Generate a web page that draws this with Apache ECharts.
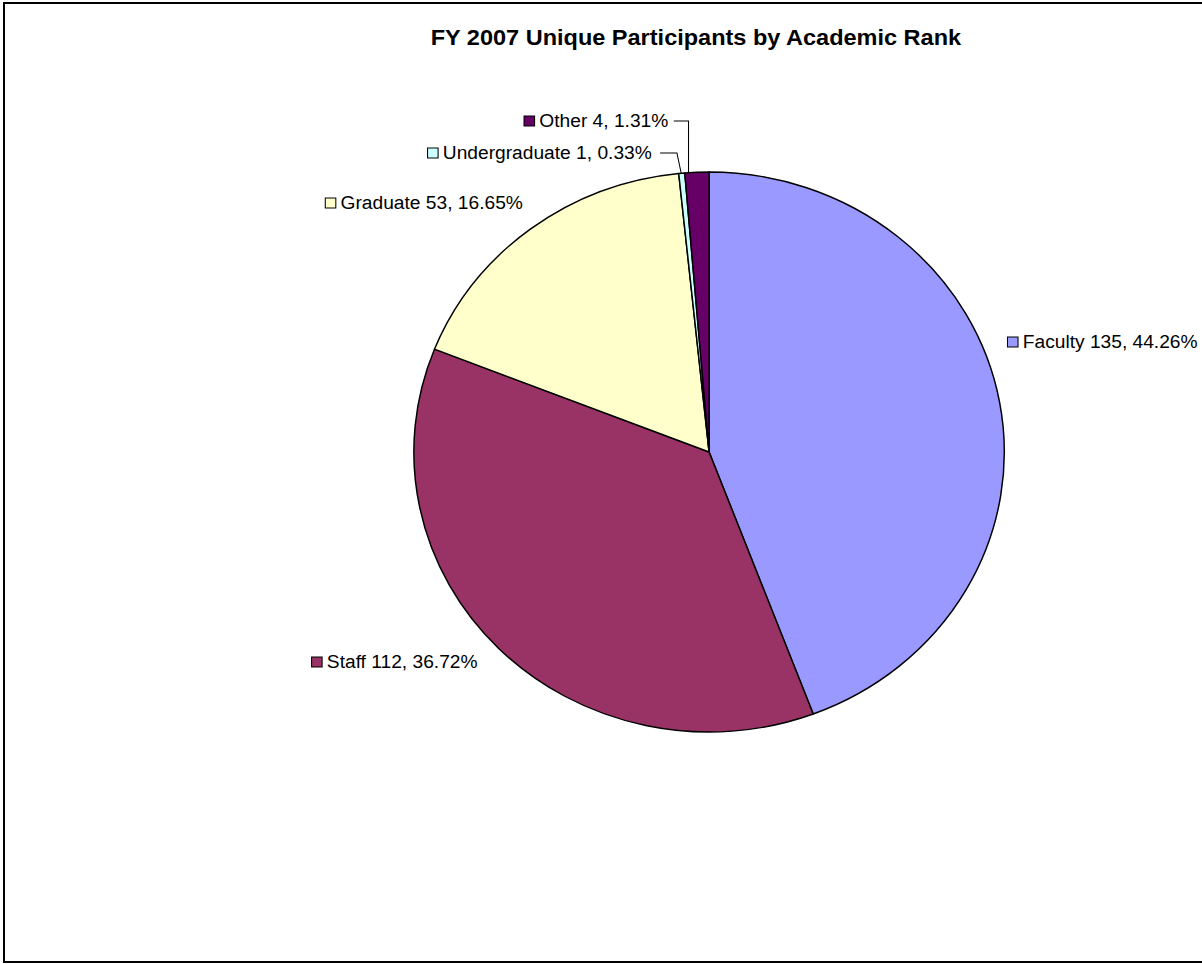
<!DOCTYPE html>
<html>
<head>
<meta charset="utf-8">
<title>FY 2007 Unique Participants by Academic Rank</title>
<script src="https://cdn.jsdelivr.net/npm/echarts@6/dist/echarts.min.js"></script>
<style>
  html, body { margin: 0; padding: 0; background: #fff; overflow: hidden; }
  #frame {
    position: absolute; left: 3px; top: 2px; width: 1400px; height: 961px;
    box-sizing: border-box; border: 2px solid #000; border-right: none;
  }
  /* the sheet is rendered slightly wider than tall */
  #chart {
    position: absolute; left: 0; top: 0; width: 1140px; height: 964px;
    transform: scaleX(1.0544); transform-origin: 0 0;
  }
</style>
</head>
<body>
<div id="frame"></div>
<div id="chart"></div>
<script>
// Participants by academic rank, FY 2007
const categories = ['Faculty', 'Staff', 'Graduate', 'Undergraduate', 'Other'];
const counts = [135, 112, 53, 1, 4];
const percentLabels = ['44.26%', '36.72%', '16.65%', '0.33%', '1.31%'];

const sliceColors = ['#9999FF', '#993366', '#FFFFCC', '#CCFFFF', '#660066'];

// label anchor (left edge of the key box, vertical middle) and optional leader line
const labelSpots = [
  { x: 956, y: 342 },
  { x: 296, y: 662 },
  { x: 309, y: 203 },
  { x: 406, y: 153, line: [[646, 173], [642, 153], [626, 153]] },
  { x: 497.5, y: 121, line: [[653, 173], [653, 121], [639, 121]] }
];

const pieData = categories.map((name, i) => ({
  name: name,
  value: counts[i],
  itemStyle: { color: sliceColors[i] },
  labelLine: { show: !!labelSpots[i].line },
  label: {
    formatter: '{box|}{t|' + name + ' ' + counts[i] + ', ' + percentLabels[i] + '}',
    rich: {
      box: {
        width: 9, height: 9, backgroundColor: sliceColors[i],
        borderColor: '#000', borderWidth: 1
      },
      t: {
        fontFamily: 'Liberation Sans, Arial, sans-serif',
        fontSize: 18.2, color: '#000', padding: [0, 0, 0, 5]
      }
    }
  }
}));

const chart = echarts.init(document.getElementById('chart'), null, { renderer: 'svg' });
chart.setOption({
  animation: false,
  backgroundColor: 'transparent',
  title: {
    text: 'FY 2007 Unique Participants by Academic Rank',
    left: 655,
    top: 21,
    textAlign: 'center',
    textStyle: {
      fontFamily: 'Liberation Sans, Arial, sans-serif',
      fontSize: 22.3, fontWeight: 'bold', color: '#000'
    }
  },
  series: [{
    type: 'pie',
    center: [672.5, 452],
    radius: 280,
    startAngle: 90,
    clockwise: true,
    avoidLabelOverlap: false,
    itemStyle: { borderColor: '#000', borderWidth: 1.4 },
    label: { show: true, position: 'outside' },
    labelLine: { show: false, lineStyle: { color: '#000', width: 1 } },
    emphasis: { disabled: true },
    labelLayout: function (params) {
      const spot = labelSpots[params.dataIndex];
      const out = { x: spot.x, y: spot.y, align: 'left', verticalAlign: 'middle' };
      if (spot.line) out.labelLinePoints = spot.line;
      return out;
    },
    data: pieData
  }]
});
</script>
</body>
</html>
